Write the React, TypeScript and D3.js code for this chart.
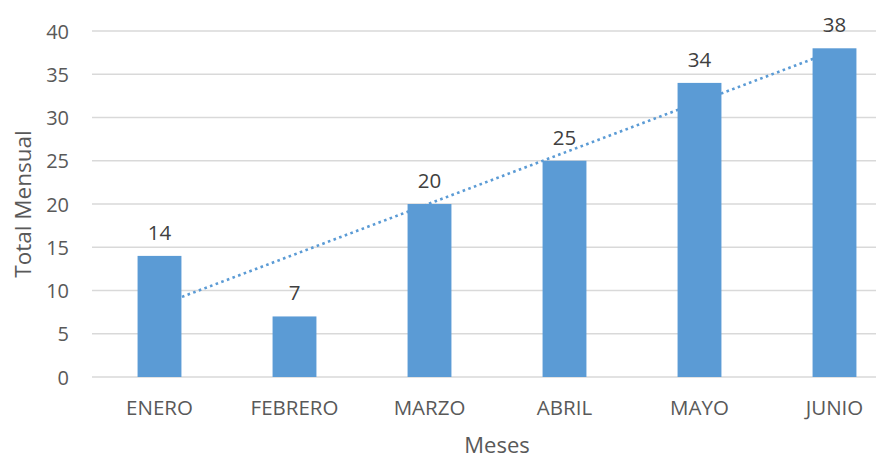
import React from "react";
import * as d3 from "d3";

const categories: string[] = ["ENERO", "FEBRERO", "MARZO", "ABRIL", "MAYO", "JUNIO"];
const values: number[] = [14, 7, 20, 25, 34, 38];
const yTicks: number[] = [0, 5, 10, 15, 20, 25, 30, 35, 40];
const yTitle = "Total Mensual";
const xTitle = "Meses";

const W = 876;
const H = 458;
const FONT = "'Open Sans', sans-serif";

export default function App() {
  const y = d3.scaleLinear().domain([0, 40]).range([377, 31]);
  const x = d3
    .scaleBand<string>()
    .domain(categories)
    .range([92, 902])
    .paddingInner(0.675)
    .paddingOuter(0.3375);

  // linear trendline (least squares) on index 1..n
  const xs = values.map((_, i) => i + 1);
  const mx = d3.mean(xs) as number;
  const my = d3.mean(values) as number;
  const sxy = d3.sum(xs.map((xi, i) => (xi - mx) * (values[i] - my)));
  const sxx = d3.sum(xs.map((xi) => (xi - mx) ** 2));
  const slope = sxy / sxx;
  const intercept = my - slope * mx;
  const cx = (c: string) => (x(c) as number) + x.bandwidth() / 2;
  const trendPts: [number, number][] = categories.map((c, i) => [
    cx(c),
    y(intercept + slope * (i + 1)),
  ]);
  const line = d3.line();

  return (
    <svg
      width={W}
      height={H}
      style={{ position: "absolute", left: 0, top: 0, background: "#fff" }}
      fontFamily={FONT}
    >
      <rect x={0} y={0} width={W} height={H} fill="#fff" />
      {yTicks.map((t) => (
        <g key={t}>
          <line x1={92} x2={W} y1={y(t)} y2={y(t)} stroke="#D9D9D9" strokeWidth={1.3} />
          <text
            x={69}
            y={y(t)}
            textAnchor="end"
            dominantBaseline="central"
            fontSize={20}
            fill="#595959"
          >
            {t}
          </text>
        </g>
      ))}
      <path
        d={line(trendPts) || ""}
        fill="none"
        stroke="#5B9BD5"
        strokeWidth={2.6}
        strokeDasharray="2.6 3.4"
      />
      {categories.map((c, i) => (
        <g key={c}>
          <rect
            x={x(c)}
            y={y(values[i])}
            width={x.bandwidth()}
            height={y(0) - y(values[i])}
            fill="#5B9BD5"
          />
          <text
            x={cx(c)}
            y={y(values[i]) - 24}
            textAnchor="middle"
            dominantBaseline="central"
            fontSize={20.5}
            fill="#404040"
          >
            {values[i]}
          </text>
          <text
            x={cx(c)}
            y={407}
            textAnchor="middle"
            dominantBaseline="central"
            fontSize={20.5}
            fill="#595959"
          >
            {c}
          </text>
        </g>
      ))}
      <text
        x={497}
        y={444}
        textAnchor="middle"
        dominantBaseline="central"
        fontSize={22}
        fill="#595959"
      >
        {xTitle}
      </text>
      <text
        transform={`translate(22,${(y(0) + y(40)) / 2}) rotate(-90)`}
        textAnchor="middle"
        dominantBaseline="central"
        fontSize={22.5}
        fill="#595959"
      >
        {yTitle}
      </text>
    </svg>
  );
}
